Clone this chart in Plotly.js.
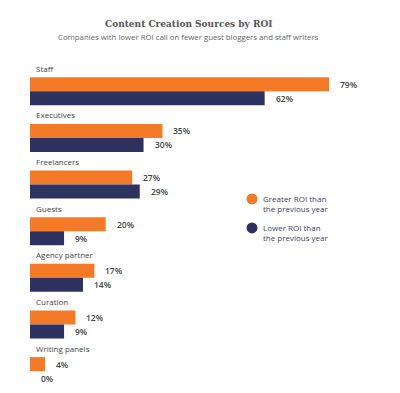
<!DOCTYPE html>
<html>
<head>
<meta charset="utf-8">
<script src="https://cdn.plot.ly/plotly-3.0.1.min.js"></script>
<style>html,body{margin:0;padding:0;background:#fff;}#chart{width:400px;height:393px;}</style>
</head>
<body>
<div id="chart"></div>
<script>
const categories = ["Staff", "Executives", "Freelancers", "Guests", "Agency partner", "Curation", "Writing panels"];
const greaterROI = [79, 35, 27, 20, 17, 12, 4];
const lowerROI = [62, 30, 29, 9, 14, 9, 0];
const seriesNames = ["Greater ROI than<br>the previous year", "Lower ROI than<br>the previous year"];
const colors = ["#F47A27", "#2E3261"];

const labelFont = {family: "Open Sans, sans-serif", size: 8, color: "#444"};
const valueFont = {family: "Open Sans, sans-serif", size: 8.5, color: "#444", weight: 600};

const traces = [
  {type: "bar", orientation: "h", y: categories, x: greaterROI, name: seriesNames[0], marker: {color: colors[0]}, hoverinfo: "x"},
  {type: "bar", orientation: "h", y: categories, x: lowerROI, name: seriesNames[1], marker: {color: colors[1]}, hoverinfo: "x"}
];

const annotations = [];
categories.forEach((c, i) => {
  annotations.push({x: 0, y: i, xref: "x", yref: "y", text: c, showarrow: false, xanchor: "left", yanchor: "middle", xshift: 4, yshift: 23, font: labelFont});
  annotations.push({x: greaterROI[i], y: i - 0.15, xref: "x", yref: "y", text: greaterROI[i] + "%", showarrow: false, xanchor: "left", yanchor: "middle", xshift: 9, font: valueFont});
  annotations.push({x: lowerROI[i], y: i + 0.15, xref: "x", yref: "y", text: lowerROI[i] + "%", showarrow: false, xanchor: "left", yanchor: "middle", xshift: 9, font: valueFont});
});
annotations.push({xref: "paper", yref: "paper", x: 0.465, y: 1, yshift: 45, xanchor: "center", yanchor: "middle", showarrow: false,
  text: "<b>Content Creation Sources by ROI</b>", font: {family: "DejaVu Serif Condensed, DejaVu Serif, serif", size: 10, color: "#555"}});
annotations.push({xref: "paper", yref: "paper", x: 0.465, y: 1, yshift: 31, xanchor: "center", yanchor: "middle", showarrow: false,
  text: "Companies with lower ROI call on fewer guest bloggers and staff writers", font: {family: "Open Sans, sans-serif", size: 7.8, color: "#666"}});

// custom legend (circle swatches + labels)
const legendY = [0.597, 0.508];
const shapes = [];
seriesNames.forEach((n, k) => {
  shapes.push({type: "circle", xref: "paper", yref: "paper", xsizemode: "pixel", ysizemode: "pixel",
    xanchor: 0.653, yanchor: legendY[k], x0: -5.5, x1: 5.5, y0: -5.5, y1: 5.5,
    fillcolor: colors[k], line: {width: 0}});
  annotations.push({xref: "paper", yref: "paper", x: 0.679, y: legendY[k], yshift: -5, xanchor: "left", yanchor: "middle", align: "left",
    showarrow: false, text: n, font: {family: "Open Sans, sans-serif", size: 8, color: "#3f4357"}});
});

const layout = {
  width: 400, height: 393,
  margin: {l: 30, r: 30, t: 68, b: 0, pad: 0},
  paper_bgcolor: "#fff", plot_bgcolor: "#fff",
  barmode: "group", bargap: 0.4, bargroupgap: 0,
  xaxis: {range: [0, 89.83], showgrid: false, zeroline: false, showticklabels: false, showline: false, fixedrange: true},
  yaxis: {type: "category", range: [6.47, -0.5], showgrid: false, zeroline: false, showticklabels: false, showline: false, fixedrange: true},
  showlegend: false,
  shapes: shapes,
  annotations: annotations
};

Plotly.newPlot("chart", traces, layout, {displayModeBar: false, staticPlot: true});
</script>
</body>
</html>
